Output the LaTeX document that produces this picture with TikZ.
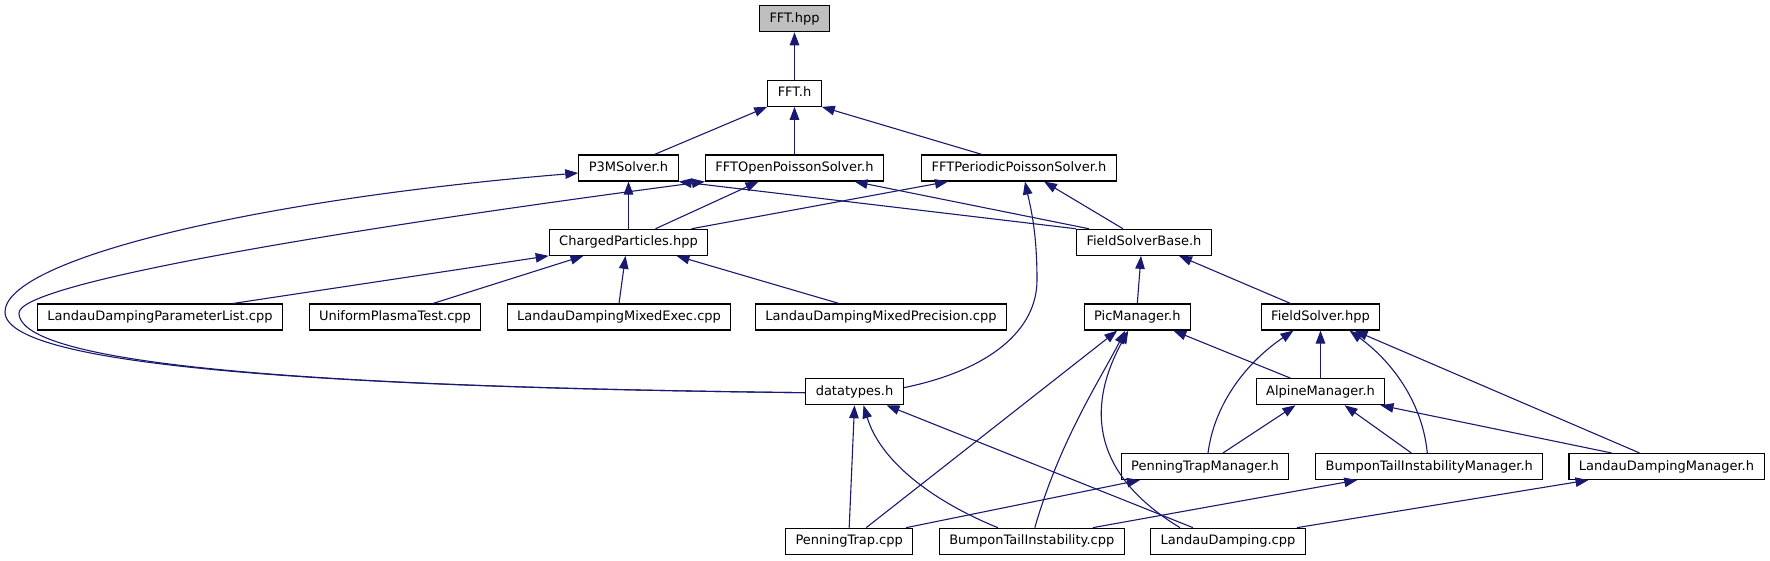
\documentclass[tikz,border=0pt]{standalone}
\usepackage{fontspec}
\setmainfont{DejaVu Sans}
\usepackage{xcolor}
\usetikzlibrary{arrows.meta}
\definecolor{edgeblue}{HTML}{191970}
\definecolor{rootgray}{HTML}{BFBFBF}

\begin{document}
\begin{tikzpicture}[x=1pt,y=-1pt,
  box/.style={draw=black,line width=1.1pt,fill=#1,font=\fontsize{13}{15}\selectfont,
              inner xsep=10pt,inner ysep=7pt,text height=9.5pt,text depth=2.5pt,minimum height=26pt},
  box/.default=white,
  dep/.style={draw=edgeblue,line width=1.1pt,-{Triangle[length=13pt,width=9.5pt]}}]
  \useasboundingbox (0,0) rectangle (1770,560);
  % nodes, one row per rank
  \node[box=rootgray] (hpp) at (794.5,18.7) {FFT.hpp};
  \node[box] (ffth) at (794.5,93.3) {FFT.h};
  \node[box] (p3m) at (628.5,168) {P3MSolver.h};
  \node[box] (open) at (794.5,168) {FFTOpenPoissonSolver.h};
  \node[box] (peri) at (1019,168) {FFTPeriodicPoissonSolver.h};
  \node[box] (charged) at (628.5,242.3) {ChargedParticles.hpp};
  \node[box] (fsb) at (1144,242.3) {FieldSolverBase.h};
  \node[box] (ldpl) at (160,317) {LandauDampingParameterList.cpp};
  \node[box] (upt) at (395,317) {UniformPlasmaTest.cpp};
  \node[box] (ldme) at (619,317) {LandauDampingMixedExec.cpp};
  \node[box] (ldmp) at (881,317) {LandauDampingMixedPrecision.cpp};
  \node[box] (pic) at (1137.3,317) {PicManager.h};
  \node[box] (fs) at (1320.5,317) {FieldSolver.hpp};
  \node[box] (dt) at (854.5,391.7) {datatypes.h};
  \node[box] (alp) at (1320.5,391.7) {AlpineManager.h};
  \node[box] (ptm) at (1205,466.5) {PenningTrapManager.h};
  \node[box] (btim) at (1429.3,466.5) {BumponTailInstabilityManager.h};
  \node[box] (ldm) at (1666.5,466.5) {LandauDampingManager.h};
  \node[box] (pt) at (849.2,541.2) {PenningTrap.cpp};
  \node[box] (bti) at (1031.8,541.2) {BumponTailInstability.cpp};
  \node[box] (ld) at (1228,541.2) {LandauDamping.cpp};
  % includes
  \draw[dep] (ffth) -- (hpp);
  \draw[dep] ([xshift=26pt]p3m.north) -- (ffth.south west);
  \draw[dep] (open) -- (ffth);
  \draw[dep] ([xshift=-37pt]peri.north) -- (ffth.south east);
  \draw[dep] (charged) -- (p3m);
  \draw[dep] ([xshift=27pt]charged.north) -- ([xshift=-36pt]open.south);
  \draw[dep] ([xshift=63pt]charged.north) -- ([xshift=-71pt]peri.south);
  \draw[dep] (fsb.north west) -- (p3m.south east);
  \draw[dep] ([xshift=-55pt]fsb.north) -- ([xshift=60pt]open.south);
  \draw[dep] ([xshift=-21pt]fsb.north) -- ([xshift=25pt]peri.south);
  \draw[dep] ([yshift=4pt]dt.east) .. controls (990,370) and (1037,330) .. (1037,280)
    .. controls (1037,230) and (1030,205) .. ([xshift=6pt]peri.south);
  \draw[dep] ([yshift=-1pt]dt.west) .. controls (400,388) and (5,372) .. (5,312)
    .. controls (5,260) and (250,200) .. ([yshift=-5pt]p3m.west);
  \draw[dep] ([yshift=-1pt]dt.west) .. controls (400,388) and (19,372) .. (19,313)
    .. controls (19,285) and (300,235) .. (open.south west);
  \draw[dep] ([xshift=73pt]ldpl.north) -- (charged.south west);
  \draw[dep] ([xshift=38pt]upt.north) -- ([xshift=-45pt]charged.south);
  \draw[dep] (ldme.north) -- ([xshift=-3pt]charged.south);
  \draw[dep] ([xshift=-42pt]ldmp.north) -- ([xshift=48pt]charged.south);
  \draw[dep] (pic.north) -- ([xshift=-3pt]fsb.south);
  \draw[dep] ([xshift=-30pt]fs.north) -- ([xshift=35pt]fsb.south);
  \draw[dep] ([xshift=-30pt]alp.north) -- ([xshift=36pt]pic.south);
  \draw[dep] (alp) -- (fs);
  \draw[dep] ([xshift=18pt]ptm.north) -- ([xshift=-25pt]alp.south);
  \draw[dep] ([xshift=3pt]ptm.north) .. controls (1215,400) and (1250,360) .. ([xshift=-27pt]fs.south);
  \draw[dep] ([xshift=-18pt]btim.north) -- ([xshift=24pt]alp.south);
  \draw[dep] ([xshift=-2pt]btim.north) .. controls (1422,400) and (1390,360) .. ([xshift=29pt]fs.south);
  \draw[dep] ([xshift=-55pt]ldm.north) -- ([xshift=60pt]alp.south);
  \draw[dep] ([xshift=-27pt]ldm.north) -- ([xshift=34pt]fs.south);
  \draw[dep] (pt.north) -- (dt.south);
  \draw[dep] ([xshift=17pt]pt.north) -- ([xshift=-20pt]pic.south);
  \draw[dep] ([xshift=57pt]pt.north) -- ([xshift=-65pt]ptm.south);
  \draw[dep] ([xshift=-34pt]bti.north) .. controls (930,500) and (880,460) .. ([xshift=9pt]dt.south);
  \draw[dep] ([xshift=3pt]bti.north) .. controls (1060,440) and (1100,380) .. ([xshift=-12pt]pic.south);
  \draw[dep] ([xshift=61pt]bti.north) -- ([xshift=-72pt]btim.south);
  \draw[dep] ([xshift=-35pt]ld.north) -- ([xshift=32pt]dt.south);
  \draw[dep] ([xshift=-48pt]ld.north) .. controls (1085,470) and (1090,400) .. ([xshift=-9pt]pic.south);
  \draw[dep] ([xshift=69pt]ld.north) -- ([xshift=-78pt]ldm.south);
\end{tikzpicture}
\end{document}
